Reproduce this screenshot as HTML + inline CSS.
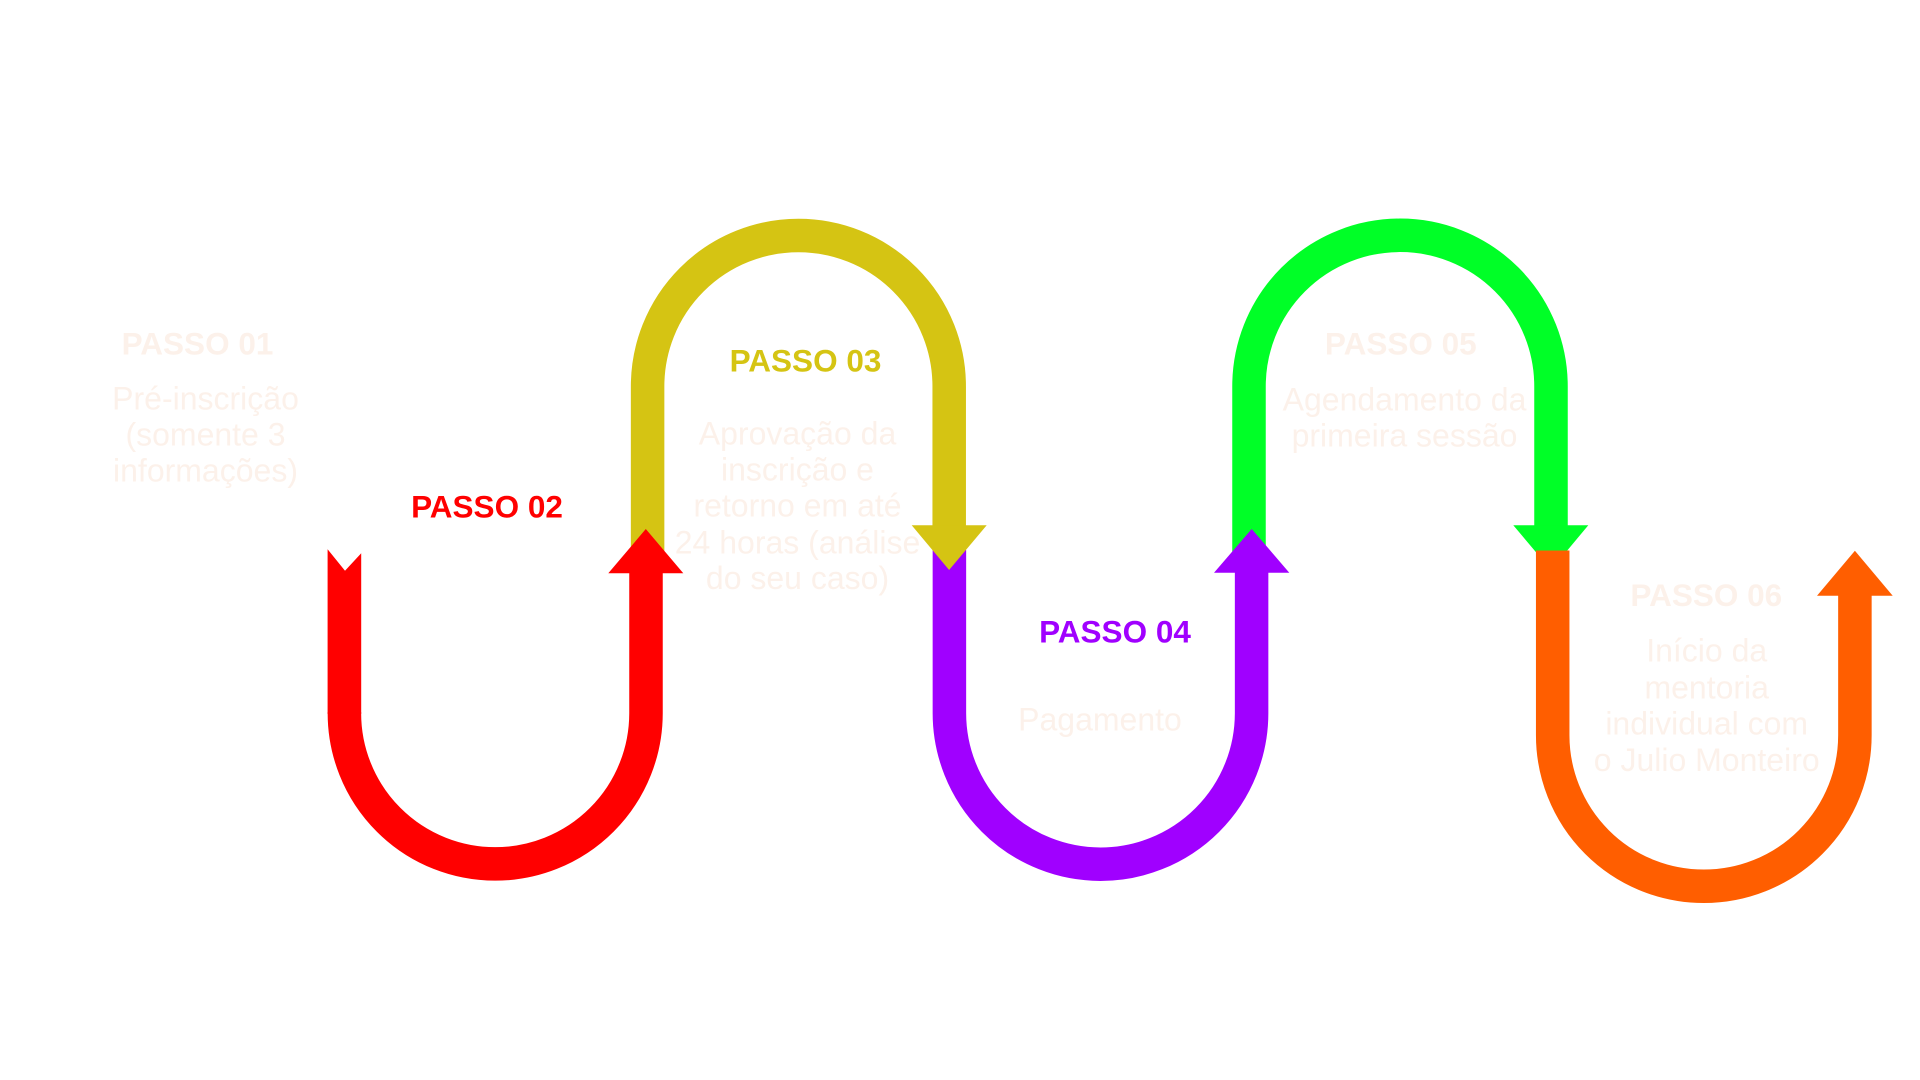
<!DOCTYPE html>
<html>
<head>
<meta charset="utf-8">
<style>
  html, body { margin: 0; padding: 0; background: #ffffff; }
  body { width: 1920px; height: 1080px; overflow: hidden; }
  svg { display: block; }
  .h { font-family: "Liberation Sans", Arial, sans-serif; font-weight: bold; font-size: 31.5px; text-anchor: middle; }
  .b { font-family: "Liberation Sans", Arial, sans-serif; font-size: 32px; text-anchor: middle; fill: #fcf1ea; }
</style>
</head>
<body>
<svg width="1920" height="1080" viewBox="0 0 1920 1080" xmlns="http://www.w3.org/2000/svg">
  <rect width="1920" height="1080" fill="#ffffff"/>

  <!-- GREEN arch -->
  <path d="M1249 552 L1249 386.3 A151 151 0 0 1 1551 386.3 L1551 527" fill="none" stroke="#00ff27" stroke-width="33.5"/>
  <polygon points="1513.3,525.3 1588.3,525.3 1551,570" fill="#00ff27"/>

  <!-- PURPLE U -->
  <path d="M949.4 550 L949.4 713.2 A151.1 151.1 0 0 0 1251.6 713.2 L1251.6 571" fill="none" stroke="#a000ff" stroke-width="33.5"/>
  <polygon points="1214,572.7 1289.3,572.7 1251.7,529" fill="#a000ff"/>

  <!-- YELLOW arch -->
  <path d="M647.6 552 L647.6 386.3 A150.8 150.8 0 0 1 949.2 386.3 L949.2 527" fill="none" stroke="#d5c413" stroke-width="33.5"/>
  <polygon points="911.7,525.3 986.7,525.3 949.1,570" fill="#d5c413"/>

  <!-- RED U -->
  <polygon points="327.6,549.3 345,570.7 361.2,553.3 361.2,714 327.6,714" fill="#ff0000"/>
  <path d="M344.4 712 L344.4 713.2 A150.8 150.8 0 0 0 646 713.2 L646 571" fill="none" stroke="#ff0000" stroke-width="33.5"/>
  <polygon points="608.3,573.3 683.3,573.3 645.8,529" fill="#ff0000"/>

  <!-- ORANGE U -->
  <path d="M1552.7 550.5 L1552.7 735.2 A151.1 151.1 0 0 0 1854.9 735.2 L1854.9 594" fill="none" stroke="#ff5e00" stroke-width="33.5"/>
  <polygon points="1817,595.7 1892.7,595.7 1854.9,550.7" fill="#ff5e00"/>

  <!-- Headings -->
  <text class="h" x="197.5" y="354.3" fill="#fcf1ea">PASSO 01</text>
  <text class="h" x="487" y="517.3" fill="#ff0000">PASSO 02</text>
  <text class="h" x="805.5" y="371.7" fill="#d5c413">PASSO 03</text>
  <text class="h" x="1115" y="642.3" fill="#a000ff">PASSO 04</text>
  <text class="h" x="1400.8" y="354.3" fill="#fcf1ea">PASSO 05</text>
  <text class="h" x="1706.3" y="606" fill="#fcf1ea">PASSO 06</text>

  <!-- Body texts -->
  <text class="b" x="205.5" y="409.3">Pré-inscrição</text>
  <text class="b" x="205.5" y="445.5">(somente 3</text>
  <text class="b" x="205.5" y="481.7">informações)</text>

  <text class="b" x="797.5" y="444.3">Aprovação da</text>
  <text class="b" x="797.5" y="480.7">inscrição e</text>
  <text class="b" x="797.5" y="516.7">retorno em até</text>
  <text class="b" x="797.5" y="553.3">24 horas (análise</text>
  <text class="b" x="797.5" y="588.8">do seu caso)</text>

  <text class="b" x="1100" y="730.7">Pagamento</text>

  <text class="b" x="1404.5" y="410.7">Agendamento da</text>
  <text class="b" x="1404.5" y="446.7">primeira sessão</text>

  <text class="b" x="1706.7" y="661.7">Início da</text>
  <text class="b" x="1706.7" y="698.3">mentoria</text>
  <text class="b" x="1706.7" y="734.3">individual com</text>
  <text class="b" x="1706.7" y="771">o Julio Monteiro</text>
</svg>
</body>
</html>
